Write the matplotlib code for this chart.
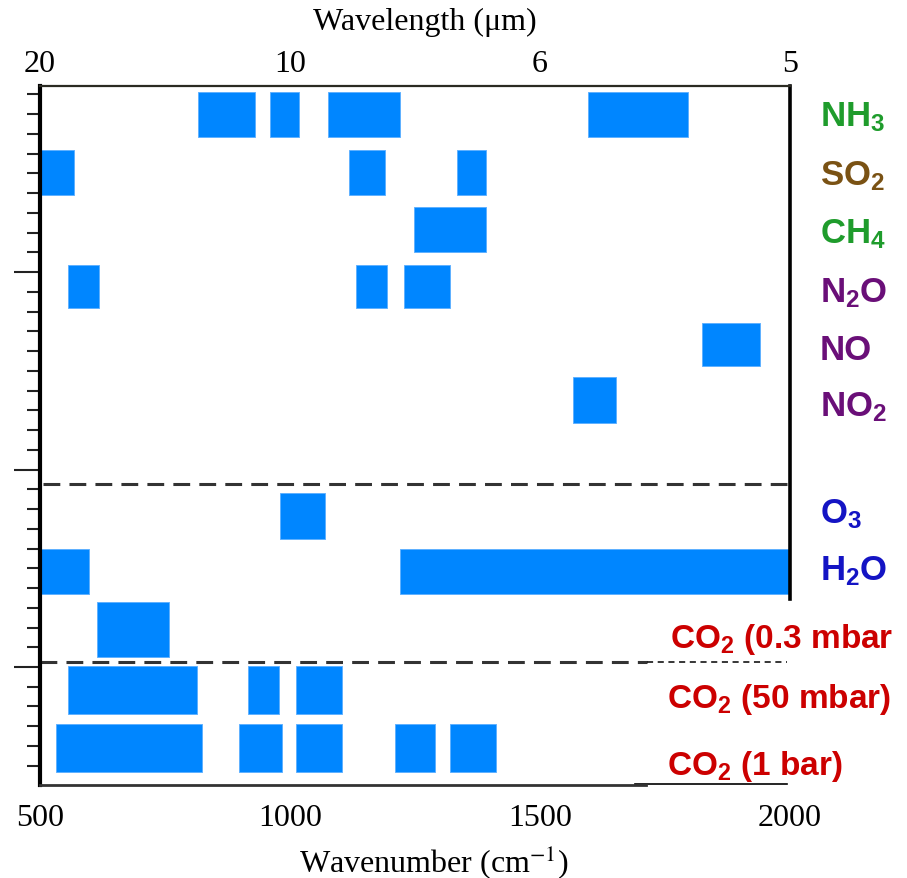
import matplotlib.pyplot as plt
import matplotlib.transforms as mtransforms

plt.rcParams['mathtext.fontset'] = 'custom'
plt.rcParams['mathtext.rm'] = 'Liberation Sans:bold'
plt.rcParams['mathtext.it'] = 'Liberation Sans:bold'
plt.rcParams['mathtext.bf'] = 'Liberation Sans:bold'

# absorption bands, wavenumber ranges (cm-1)
nh3 = [(815, 930), (960, 1017), (1075, 1220), (1595, 1795)]
so2 = [(500, 568), (1117, 1190), (1334, 1392)]
ch4 = [(1248, 1392)]
n2o = [(555, 617), (1132, 1194), (1228, 1319)]
no = [(1824, 1940)]
no2 = [(1565, 1651)]
o3 = [(979, 1069)]
h2o = [(500, 597), (1219, 2000)]
co2_03mbar = [(613, 757)]
co2_50mbar = [(555, 814), (915, 978), (1012, 1103)]
co2_1bar = [(531, 823), (897, 983), (1012, 1103), (1209, 1290), (1319, 1411)]

bands = [nh3, so2, ch4, n2o, no, no2, o3, h2o, co2_03mbar, co2_50mbar, co2_1bar]
names = ['NH$_3$', 'SO$_2$', 'CH$_4$', 'N$_2$O', 'NO', 'NO$_2$', 'O$_3$', 'H$_2$O',
         'CO$_2$ (0.3 mbar', 'CO$_2$ (50 mbar)', 'CO$_2$ (1 bar)']
colors = ['#1f9c2c', '#7a5214', '#1f9c2c', '#6a0f78', '#6a0f78', '#6a0f78',
          '#1414c4', '#1414c4', '#cc0000', '#cc0000', '#cc0000']

wn_ticks = [500, 1000, 1500, 2000]
wl_labels = ['20', '10', '6', '5']

# row layout in tick units (y axis runs downward)
row_top = [-9.10, -6.19, -3.28, -0.35, 2.58, 5.33, 11.20, 14.03, 16.69, 19.96, 22.89]
row_h = [2.28, 2.29, 2.28, 2.17, 2.16, 2.33, 2.32, 2.27, 2.79, 2.43, 2.43]
label_y = [-7.41, -4.46, -1.52, 1.47, 4.41, 7.28, 12.66, 15.54, 19.00, 22.04, 25.42]
label_x = [1.04] * 8 + [0.84, 0.836, 0.836]
label_size = [25] * 8 + [24, 24, 24]

fig = plt.figure(figsize=(9.07, 8.79), dpi=100)
ax = fig.add_axes([40 / 907, 93.5 / 879, 750 / 907, 698.5 / 879])

bar_color = '#0086ff'
for b, top, h in zip(bands, row_top, row_h):
    ax.broken_barh([(lo, hi - lo) for lo, hi in b], (top, h),
                   facecolor=bar_color, edgecolor='#5aaeff', linewidth=0.6)

ax.set_xlim(500, 2000)
ax.set_ylim(25.95, -9.42)

# separators between groups
ax.plot([506, 1994], [10.73, 10.73], color='#333333', lw=2.2, dashes=(5.5, 3))
ax.plot([500, 1714], [19.76, 19.76], color='#333333', lw=2.2, dashes=(5.5, 3))
ax.plot([1714, 1994], [19.76, 19.76], color='black', lw=1.1, dashes=(4, 3))
ax.plot([1690, 1994], [25.92, 25.92], color='black', lw=1.2, clip_on=False)

# frame
ax.spines['left'].set_linewidth(3.0)
ax.spines['left'].set_color('black')
ax.spines['top'].set_linewidth(1.6)
ax.spines['top'].set_color('#2b2b22')
ax.spines['right'].set_linewidth(2.6)
ax.spines['right'].set_color('black')
ax.spines['right'].set_bounds(-9.42, 16.56)
ax.spines['bottom'].set_linewidth(2.0)
ax.spines['bottom'].set_color('#333333')
ax.spines['bottom'].set_bounds(500, 1712)

ax.set_yticks([0, 10, 20])
ax.set_yticks(range(-9, 26), minor=True)
ax.set_yticklabels([])
ax.tick_params(axis='y', which='major', direction='out', length=19, width=1.5, color='#222222')
ax.tick_params(axis='y', which='minor', direction='out', length=9.5, width=1.5, color='#222222')

ax.set_xticks(wn_ticks)
ax.set_xticklabels([str(t) for t in wn_ticks])
ax.tick_params(axis='x', length=0, pad=13)
for lab in ax.get_xticklabels():
    lab.set_fontfamily('Liberation Serif')
    lab.set_fontsize(23)

top = ax.secondary_xaxis('top')
top.set_xticks(wn_ticks)
top.set_xticklabels(wl_labels)
top.tick_params(length=0, pad=6)
top.spines['top'].set_visible(False)
for lab in top.get_xticklabels():
    lab.set_fontfamily('Liberation Serif')
    lab.set_fontsize(23)

ax.text(0.525, -0.082, 'Wavenumber (cm$^{-1}$)', transform=ax.transAxes,
        ha='center', va='top', fontsize=23, fontfamily='Liberation Serif',
        math_fontfamily='stix')
ax.text(0.513, 1.071, 'Wavelength (\u03bcm)', transform=ax.transAxes,
        ha='center', va='bottom', fontsize=23, fontfamily='Liberation Serif')

trans = mtransforms.blended_transform_factory(ax.transAxes, ax.transData)
for name, c, x, y, s in zip(names, colors, label_x, label_y, label_size):
    ax.text(x, y, name, transform=trans, color=c, fontsize=s,
            fontfamily='Liberation Sans', fontweight='bold',
            ha='left', va='baseline', clip_on=False)

fig.savefig('out.png', dpi=100)
